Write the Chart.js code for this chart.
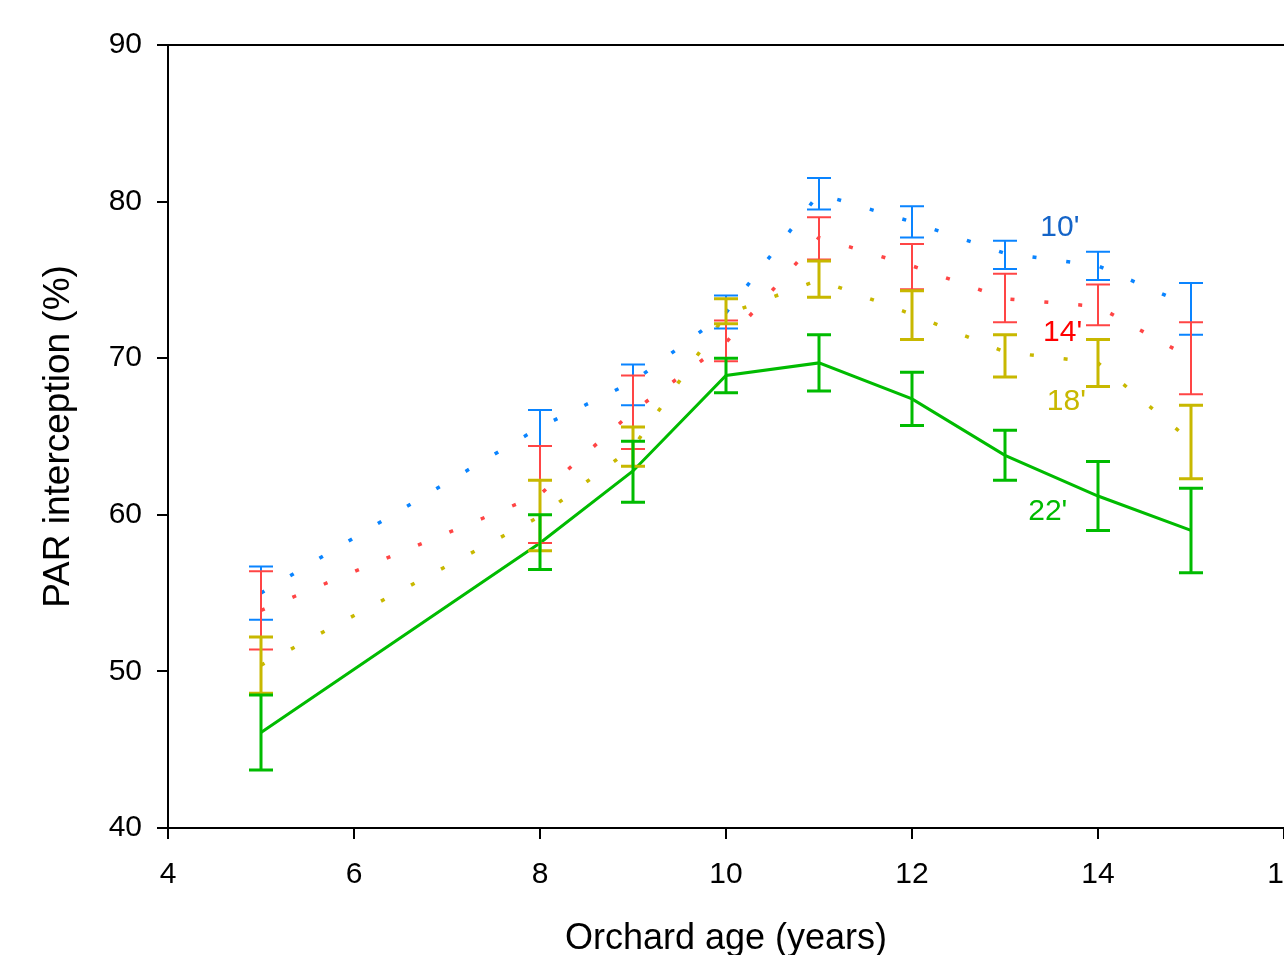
<!DOCTYPE html>
<html>
<head>
<meta charset="utf-8">
<script src="https://cdn.jsdelivr.net/npm/chart.js@4.4.1/dist/chart.umd.min.js"></script>
<style>
  html, body { margin: 0; padding: 0; background: #fff; overflow: hidden; }
  #wrap { width: 1400px; height: 955px; }
</style>
</head>
<body>
<div id="wrap"><canvas id="chart" width="1400" height="955"></canvas></div>
<script>
// orchard age (years)
const ages = [5, 8, 9, 10, 11, 12, 13, 14, 15];

// PAR interception (%) per tree spacing, mean and error bar ends
const par10   = [55.0, 65.6, 68.5, 72.9, 80.5, 78.7, 76.7, 75.9, 73.3];
const par10Lo = [53.3, 64.4, 67.0, 71.9, 79.5, 77.7, 75.7, 75.0, 71.5];
const par10Hi = [56.7, 66.7, 69.6, 74.0, 81.5, 79.7, 77.5, 76.8, 74.8];

const par14   = [53.9, 61.3, 66.6, 71.0, 77.7, 75.9, 73.8, 73.3, 70.0];
const par14Lo = [51.4, 58.2, 64.2, 69.8, 76.3, 74.4, 72.3, 72.1, 67.7];
const par14Hi = [56.4, 64.4, 68.9, 72.4, 79.0, 77.3, 75.4, 74.7, 72.3];

const par18   = [50.4, 59.9, 64.3, 72.8, 75.0, 72.8, 70.4, 69.7, 64.7];
const par18Lo = [48.6, 57.7, 63.1, 72.2, 73.9, 71.2, 68.8, 68.2, 62.3];
const par18Hi = [52.2, 62.2, 65.6, 73.8, 76.2, 74.3, 71.5, 71.2, 67.0];

const par22   = [46.1, 58.2, 62.8, 68.9, 69.7, 67.4, 63.8, 61.2, 59.0];
const par22Lo = [43.7, 56.5, 60.8, 67.8, 67.9, 65.7, 62.2, 59.0, 56.3];
const par22Hi = [48.5, 60.0, 64.7, 70.0, 71.5, 69.1, 65.4, 63.4, 61.7];

const xTicks = [4, 6, 8, 10, 12, 14, 16];
const yTicks = [40, 50, 60, 70, 80, 90];

// in-plot series labels (text, age, %)
const seriesLabels = ["10'", "14'", "18'", "22'"];
const labelAge = [13.59, 13.62, 13.66, 13.46];
const labelPar = [78.3, 71.6, 67.2, 60.2];

const FONT = "'Liberation Sans', Arial, Helvetica, sans-serif";

const series = [
  { mean: par10, lo: par10Lo, hi: par10Hi, color: '#0a84ff', text: '#1464c8', dash: [4, 30], w: 3.5, bw: 2 },
  { mean: par14, lo: par14Lo, hi: par14Hi, color: '#ff4545', text: '#ff0000', dash: [4, 30], w: 3.5, bw: 2 },
  { mean: par18, lo: par18Lo, hi: par18Hi, color: '#c8b800', text: '#c8b800', dash: [4, 30], w: 3.5, bw: 3 },
  { mean: par22, lo: par22Lo, hi: par22Hi, color: '#00bb00', text: '#00bb00', dash: [], w: 3, bw: 3 }
];

const datasets = series.map(s => ({
  data: ages.map((a, i) => ({ x: a, y: s.mean[i] })),
  borderColor: s.color,
  borderWidth: s.w,
  borderDash: s.dash,
  borderCapStyle: 'butt',
  pointRadius: 0,
  tension: 0,
  fill: false
}));

const errorBars = {
  id: 'errorBars',
  afterDatasetsDraw(chart) {
    const { ctx, chartArea, scales: { x, y } } = chart;
    ctx.save();
    // top frame line
    ctx.strokeStyle = '#000';
    ctx.lineWidth = 2;
    ctx.beginPath();
    ctx.moveTo(chartArea.left - 1, chartArea.top);
    ctx.lineTo(chartArea.right + 2, chartArea.top);
    ctx.stroke();

    series.forEach(s => {
      ctx.strokeStyle = s.color;
      ctx.lineWidth = s.bw;
      ctx.setLineDash([]);
      ages.forEach((a, i) => {
        const px = x.getPixelForValue(a);
        const pl = y.getPixelForValue(s.lo[i]);
        const ph = y.getPixelForValue(s.hi[i]);
        ctx.beginPath();
        ctx.moveTo(px, pl); ctx.lineTo(px, ph);
        ctx.moveTo(px - 12, pl); ctx.lineTo(px + 12, pl);
        ctx.moveTo(px - 12, ph); ctx.lineTo(px + 12, ph);
        ctx.stroke();
      });
    });

    ctx.font = '30px ' + FONT;
    ctx.textAlign = 'center';
    ctx.textBaseline = 'middle';
    seriesLabels.forEach((t, i) => {
      ctx.fillStyle = series[i].text;
      ctx.fillText(t, x.getPixelForValue(labelAge[i]), y.getPixelForValue(labelPar[i]));
    });
    ctx.restore();
  }
};

new Chart(document.getElementById('chart'), {
  type: 'line',
  data: { datasets },
  plugins: [errorBars],
  options: {
    responsive: false,
    animation: false,
    layout: { padding: { top: 45, right: 116, bottom: 0, left: 0 } },
    plugins: { legend: { display: false }, tooltip: { enabled: false } },
    scales: {
      x: {
        type: 'linear',
        min: 4, max: 16,
        afterBuildTicks: s => { s.ticks = xTicks.map(v => ({ value: v })); },
        afterFit: s => { s.height = 127; },
        grid: { drawOnChartArea: false, drawTicks: true, tickLength: 11, color: '#000', lineWidth: 2 },
        border: { display: true, color: '#000', width: 2 },
        ticks: { color: '#000', padding: 18, maxRotation: 0, font: { family: FONT, size: 30 } },
        title: {
          display: true, text: 'Orchard age (years)', color: '#000',
          font: { family: FONT, size: 36, lineHeight: 0.9 }, padding: { top: 0, bottom: 0 }
        }
      },
      y: {
        min: 40, max: 90,
        afterBuildTicks: s => { s.ticks = yTicks.map(v => ({ value: v })); },
        afterFit: s => { s.width = 168; },
        grid: { drawOnChartArea: false, drawTicks: true, tickLength: 11, color: '#000', lineWidth: 2 },
        border: { display: true, color: '#000', width: 2 },
        ticks: { color: '#000', padding: 15, font: { family: FONT, size: 30 } },
        title: {
          display: true, text: 'PAR interception (%)', color: '#000',
          font: { family: FONT, size: 37, lineHeight: 1 }, padding: { top: 40, bottom: 0 }
        }
      }
    }
  }
});
</script>
</body>
</html>
